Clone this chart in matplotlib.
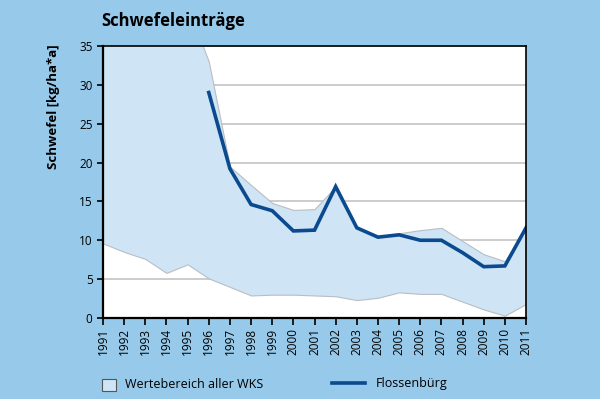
import numpy as np
import matplotlib.pyplot as plt
from matplotlib.patches import Rectangle
from matplotlib.lines import Line2D

plt.rcParams['font.family'] = ['Open Sans', 'DejaVu Sans']

years = list(range(1991, 2012))
# range of all stations (upper values above 35 before 1996 are clipped)
upper = [48, 46, 44, 42, 40, 33, 19.5, 17.1, 14.8, 13.9, 14.0, 16.9, 11.6,
         10.4, 10.9, 11.3, 11.6, 9.9, 8.2, 7.3, 11.6]
lower = [9.6, 8.5, 7.6, 5.8, 6.9, 5.1, 4.0, 2.9, 3.0, 3.0, 2.9, 2.8, 2.3,
         2.6, 3.3, 3.1, 3.1, 2.1, 1.1, 0.3, 1.8]
fl_years = list(range(1996, 2012))
flossenbuerg = [29.0, 19.2, 14.6, 13.8, 11.2, 11.3, 16.9, 11.6, 10.4, 10.7,
                10.0, 10.0, 8.4, 6.6, 6.7, 11.6]

bg = '#96c9ea'
fill_c = '#cfe4f4'
line_c = '#0b4a8e'

W, H = 600, 399
fig = plt.figure(figsize=(6, 3.99), dpi=100, facecolor=bg)
ax = fig.add_axes([0.1717, 0.203, 0.705, 0.682])
ax.set_facecolor('white')

ax.fill_between(years, lower, upper, color=fill_c, edgecolor='#b8bec4', linewidth=0.8)
ax.plot(fl_years, flossenbuerg, color=line_c, linewidth=2.6, solid_joinstyle='miter')

ax.set_xlim(1991, 2011)
ax.set_ylim(0, 35)
ax.set_yticks(range(0, 36, 5))
ax.set_xticks(years)
ax.set_xticklabels([str(y) for y in years], rotation=90, fontsize=8.5)
ax.tick_params(axis='y', labelsize=8.5, length=4, width=1.2, direction='out')
ax.tick_params(axis='x', length=5, width=1.2, direction='out', pad=2)
ax.grid(axis='y', color='#c4c4c4', linewidth=1.2)
ax.set_axisbelow(True)
for s in ['left', 'bottom']:
    ax.spines[s].set_linewidth(1.6)
for s in ['top', 'right']:
    ax.spines[s].set_linewidth(1.2)
ax.set_ylabel('Schwefel [kg/ha*a]', fontsize=9.5, fontweight='bold')
ax.yaxis.set_label_coords(-0.102, 0.775)

fig.text(0.168, 0.948, 'Schwefeleinträge', fontsize=12, fontweight='bold', va='center')

# legend, placed by hand
fig.patches.append(Rectangle((102 / W, 1 - 391 / H), 14 / W, 12 / H,
                             transform=fig.transFigure, facecolor=fill_c,
                             edgecolor='#555555', linewidth=0.8))
fig.text(125 / W, 1 - 384 / H, 'Wertebereich aller WKS', fontsize=9, va='center')
fig.lines.append(Line2D([332 / W, 365 / W], [1 - 383 / H, 1 - 383 / H],
                        transform=fig.transFigure, color=line_c, linewidth=2.6))
fig.text(376 / W, 1 - 384 / H, 'Flossenbürg', fontsize=9, va='center')

fig.savefig('out.png', dpi=100, facecolor=bg)
